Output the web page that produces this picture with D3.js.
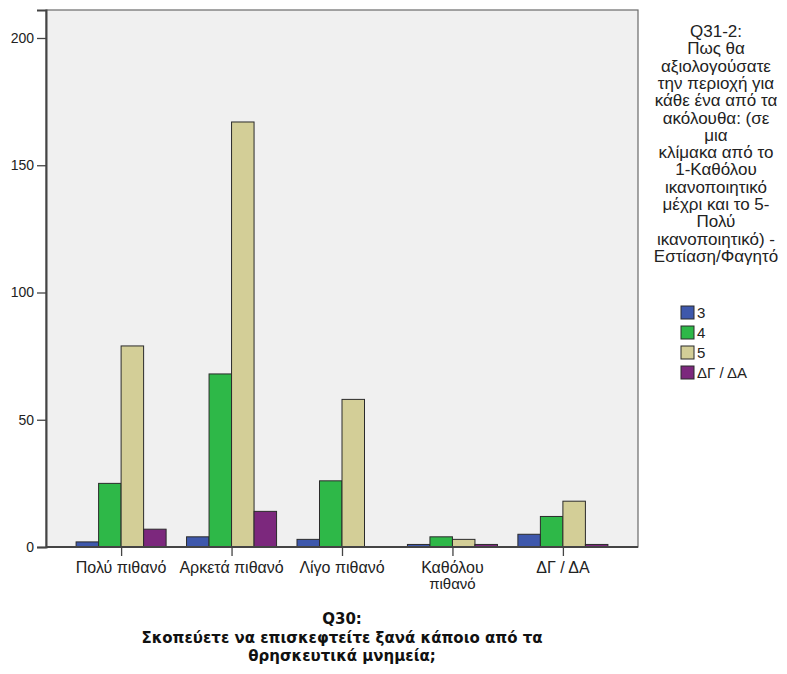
<!DOCTYPE html>
<html>
<head>
<meta charset="utf-8">
<script src="https://cdnjs.cloudflare.com/ajax/libs/d3/7.8.5/d3.min.js"></script>
<style>
  html, body { margin: 0; padding: 0; background: #ffffff; }
  svg { display: block; font-family: "Liberation Sans", Arial, sans-serif; }
</style>
</head>
<body>
<svg id="chart" width="787" height="674"></svg>
<script>
const categories = [["Πολύ πιθανό"], ["Αρκετά πιθανό"], ["Λίγο πιθανό"], ["Καθόλου", "πιθανό"], ["ΔΓ / ΔΑ"]];
const categoryKeys = ["Πολύ πιθανό", "Αρκετά πιθανό", "Λίγο πιθανό", "Καθόλου πιθανό", "ΔΓ / ΔΑ"];
const seriesNames = ["3", "4", "5", "ΔΓ / ΔΑ"];
const values3 = [2, 4, 3, 1, 5];
const values4 = [25, 68, 26, 4, 12];
const values5 = [79, 167, 58, 3, 18];
const valuesNA = [7, 14, 0, 1, 1];
const seriesColors = ["#3E58AC", "#2EB848", "#D3CE97", "#7C287D"];
const yTicks = [0, 50, 100, 150, 200];
const legendTitle = ["Q31-2:", "Πως θα", "αξιολογούσατε", "την περιοχή για", "κάθε ένα από τα", "ακόλουθα: (σε", "μια", "κλίμακα από το", "1-Καθόλου", "ικανοποιητικό", "μέχρι και το 5-", "Πολύ", "ικανοποιητικό) -", "Εστίαση/Φαγητό"];
const xTitle = ["Q30:", "Σκοπεύετε να επισκεφτείτε ξανά κάποιο από τα", "θρησκευτικά μνημεία;"];

const seriesValues = [values3, values4, values5, valuesNA];

const svg = d3.select("#chart");
const plot = { left: 46, right: 638, top: 10, bottom: 547 };

const x = d3.scalePoint().domain(categoryKeys).range([plot.left, plot.right]).padding(0.68);
const groupW = x.step() * 0.815;
const xInner = d3.scaleBand().domain(seriesNames).range([-groupW / 2, groupW / 2]).paddingInner(0);
const y = d3.scaleLinear().domain([0, 211]).range([plot.bottom, plot.top]);

// plot background
svg.append("rect")
  .attr("x", plot.left).attr("y", plot.top)
  .attr("width", plot.right - plot.left).attr("height", plot.bottom - plot.top)
  .attr("fill", "#F0F0F0").attr("stroke", "#6a6a6a").attr("stroke-width", 1.2);

// bars
const barData = [];
categoryKeys.forEach((c, ci) => {
  seriesNames.forEach((s, si) => {
    const v = seriesValues[si][ci];
    if (v > 0) barData.push({ c, s, si, v });
  });
});
svg.append("g").selectAll("rect").data(barData).join("rect")
  .attr("x", d => x(d.c) + xInner(d.s))
  .attr("y", d => y(d.v))
  .attr("width", xInner.bandwidth())
  .attr("height", d => y(0) - y(d.v))
  .attr("fill", d => seriesColors[d.si])
  .attr("stroke", "#2b2b2b").attr("stroke-width", 1);

// y axis
const yAxis = d3.axisLeft(y).tickValues(yTicks).tickSize(9).tickPadding(3).tickFormat(d3.format("d"));
const gy = svg.append("g").attr("transform", `translate(${plot.left},0)`).call(yAxis);
gy.select(".domain").attr("stroke", "#444").attr("stroke-width", 2);
gy.selectAll(".tick line").attr("stroke", "#444").attr("stroke-width", 1.3);
gy.selectAll(".tick text").attr("font-size", 14).attr("fill", "#222")
  .attr("font-family", "Liberation Sans, Arial, sans-serif");

// x axis
const xAxis = d3.axisBottom(x).tickSize(9).tickFormat("");
const gx = svg.append("g").attr("transform", `translate(0,${plot.bottom})`).call(xAxis);
gx.select(".domain").attr("stroke", "#444").attr("stroke-width", 2).attr("d", `M${plot.left},0H${plot.right}`);
gx.selectAll(".tick line").attr("stroke", "#444").attr("stroke-width", 1.3);

// x labels
categories.forEach((lines, i) => {
  lines.forEach((ln, j) => {
    svg.append("text")
      .attr("x", x(categoryKeys[i])).attr("y", 573 + j * 16)
      .attr("text-anchor", "middle").attr("font-size", j === 0 ? 16 : 15).attr("fill", "#222")
      .text(ln);
  });
});

// x title
const cx = (plot.left + plot.right) / 2;
xTitle.forEach((ln, j) => {
  svg.append("text")
    .attr("x", cx).attr("y", 624 + j * 18.5)
    .attr("text-anchor", "middle").attr("font-size", 15).attr("font-weight", "bold")
    .attr("font-family", "DejaVu Sans, sans-serif")
    .attr("fill", "#111").text(ln);
});

// legend title
legendTitle.forEach((ln, j) => {
  svg.append("text")
    .attr("x", 716).attr("y", 37 + j * 17.3)
    .attr("text-anchor", "middle").attr("font-size", 17).attr("fill", "#222").text(ln);
});

// legend items
seriesNames.forEach((s, i) => {
  const yy = 306 + i * 20;
  svg.append("rect").attr("x", 681).attr("y", yy).attr("width", 13).attr("height", 13)
    .attr("fill", seriesColors[i]).attr("stroke", "#2b2b2b").attr("stroke-width", 1);
  svg.append("text").attr("x", 697).attr("y", yy + 12).attr("font-size", 15).attr("fill", "#222").text(s);
});
</script>
</body>
</html>
